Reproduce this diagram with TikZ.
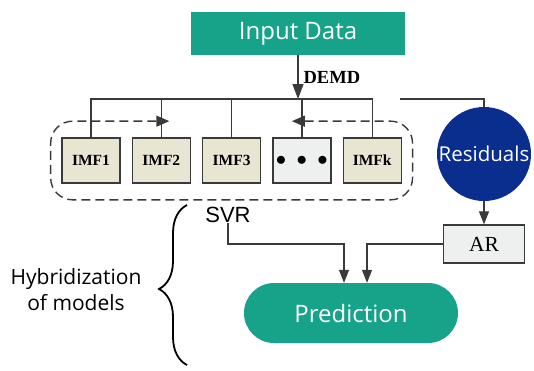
\documentclass[tikz,border=0pt]{standalone}
\usepackage{fontspec}
\setmainfont{Liberation Serif}
\newfontfamily\opensans{Open Sans}
\newfontfamily\arialfont{Liberation Sans}
\usetikzlibrary{positioning, arrows.meta, fit, calc, decorations.pathreplacing}
\definecolor{verdecaja}{RGB}{22,163,137}
\definecolor{azulres}{RGB}{10,46,142}
\definecolor{beigeimf}{RGB}{232,230,211}
\definecolor{grisclaro}{RGB}{238,240,240}
\definecolor{grislinea}{RGB}{58,58,58}
\tikzset{
    box_verde/.style={rectangle, fill=verdecaja, text=white, inner sep=0pt, font=\opensans\fontsize{24}{28}\selectfont},
    box_imf/.style={rectangle, draw=grislinea, fill=beigeimf, line width=1.3pt, minimum width=58pt, minimum height=45pt, inner sep=0pt, font=\bfseries\fontsize{15.5}{18}\selectfont},
    box_ar/.style={rectangle, draw=grislinea, fill=grisclaro, line width=1.3pt, minimum width=81pt, minimum height=38pt, inner sep=0pt, font=\fontsize{21.5}{24}\selectfont},
    linea/.style={draw=grislinea, line width=1.2pt},
    flecha/.style={linea, -{Triangle[length=13pt, width=10pt]}}
}

\begin{document}
\begin{tikzpicture}[
        x=1pt, y=-1pt,
        node distance=11pt,
        % marco punteado de las IMF
        marco_linea/.style={draw=grislinea, line width=1.4pt, dash pattern=on 9pt off 5pt,
            rounded corners=22pt, {Triangle[length=13pt, width=11pt]}-{Triangle[length=13pt, width=11pt]}},
        llave/.style={draw=black, line width=1.8pt, decorate,
            decoration={brace, amplitude=28pt, aspect=0.475}}
    ]
    \useasboundingbox (0,0) rectangle (534,370);

    % 1. Datos de entrada
    \node[box_verde, minimum width=214pt, minimum height=43pt] (input) at (298,33.5) {Input Data};

    % 2. Fila de IMF
    \node[box_imf] (imf1) at (91,160.5) {IMF1};
    \node[box_imf, right=of imf1] (imf2) {IMF2};
    \node[box_imf, right=of imf2] (imf3) {IMF3};
    \node[box_imf, fill=grisclaro, right=of imf3] (puntos) {\fontsize{20}{20}\selectfont$\bullet\;\bullet\;\bullet$};
    \node[box_imf, right=of puntos] (imfk) {IMFk};
    \node[fit=(imf1)(imfk), inner xsep=10.5pt, inner ysep=16pt] (marco) {};

    % 3. Residuos y AR
    \node[circle, fill=azulres, text=white, minimum size=94pt, inner sep=0pt,
        font=\opensans\fontsize{20.5}{24}\selectfont] (residuos) at (484,154) {Residuals};
    \node[box_ar] (ar) at (484,244) {AR};

    % 4. SVR y prediccion
    \node[font=\arialfont\fontsize{22}{24}\selectfont, inner sep=1pt] (svr) at (228,214.5) {SVR};
    \node[box_verde, rounded corners=30pt, minimum width=214pt, minimum height=60pt] (pred) at (351,313) {Prediction};

    % 5. Llave lateral
    \coordinate (llave_ab) at (187,365);
    \coordinate (llave_ar) at (187,205);
    \draw[llave] (llave_ab) -- (llave_ar);
    \node[font=\opensans\fontsize{21}{26}\selectfont, align=center] (hibrido) at (76,290) {Hybridization\\of models};

    % --- CONEXIONES ---

    % Bajada DEMD hasta la barra
    \coordinate (bus) at (298,99);
    \draw[linea, -{Triangle[length=15pt, width=11pt]}] (input.south) -- node[right, inner sep=5pt, font=\bfseries\fontsize{18.5}{20}\selectfont] {DEMD} (bus);

    % Barra repartida hacia cada IMF
    \draw[linea] (imf1.north) |- (imfk.north |- bus) -- (imfk.north);
    \foreach \n in {imf2, imf3, puntos}
        \draw[linea] (\n.north) -- (\n.north |- bus);

    % Marco punteado con sus dos puntas
    \draw[marco_linea] ($(puntos.north |- marco.north)+(-10,0)$) -| (marco.south east)
        -| (marco.north west) -- ($(imf2.north |- marco.north)+(8,0)$);

    % Ramal de los residuos
    \coordinate (res_ini) at (400,99);
    \draw[linea] (res_ini) -| (residuos.north);
    \draw[flecha] (residuos.south) -- (ar.north);

    % Entradas a la prediccion
    \coordinate (p_svr) at ($(pred.north)+(-7,0)$);
    \coordinate (p_ar) at ($(pred.north)+(16,0)$);
    \draw[flecha] (svr.south) |- (p_svr |- ar.west) -- (p_svr);
    \draw[flecha] (ar.west) -| (p_ar);

\end{tikzpicture}
\end{document}
